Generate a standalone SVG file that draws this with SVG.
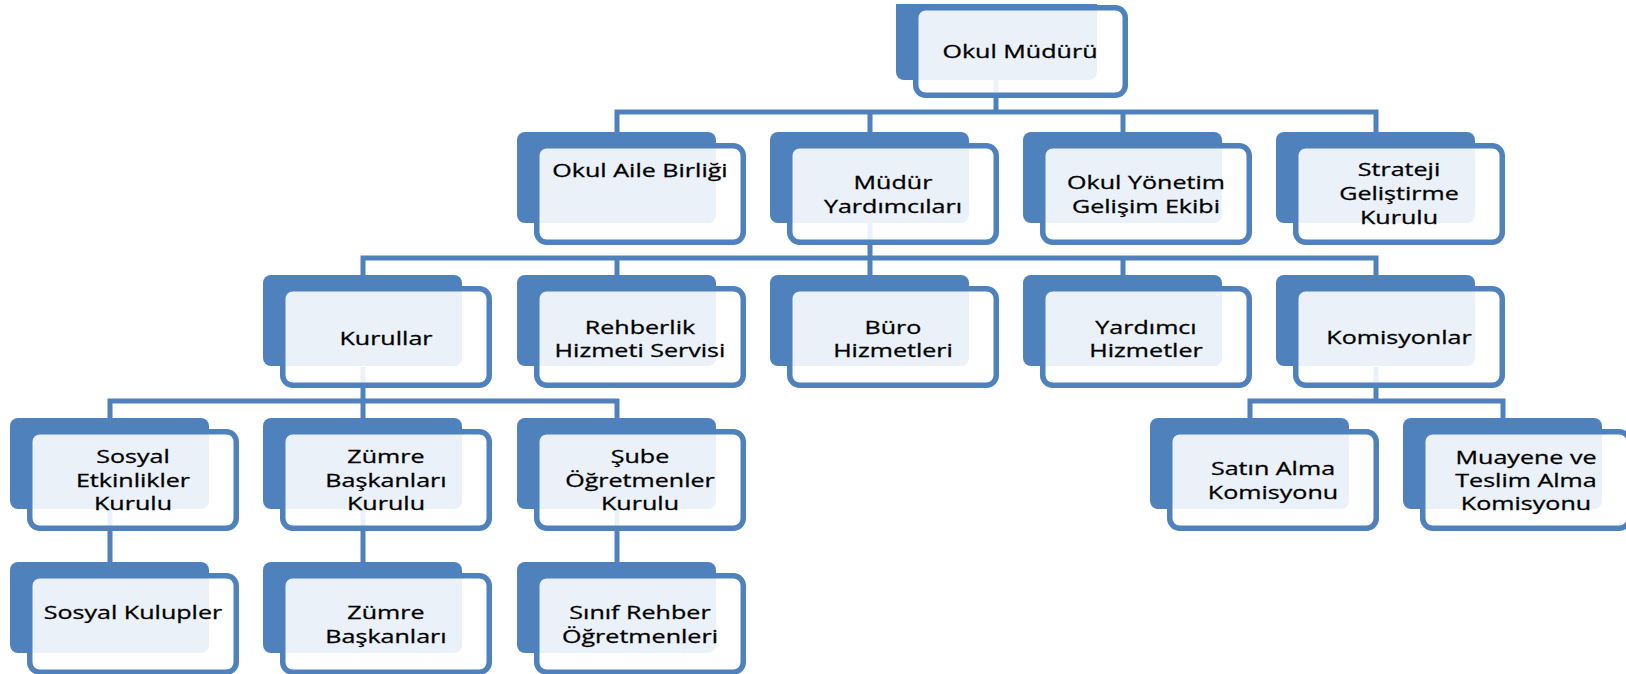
<svg xmlns="http://www.w3.org/2000/svg" width="1626" height="674" viewBox="0 0 1626 674">
<style>
.bg{fill:#ffffff}
.back{fill:#4F81BD}
.front{fill:#ffffff;fill-opacity:0.89;stroke:#4F81BD;stroke-width:5.5}
.conn{fill:none;stroke:#4F81BD;stroke-width:5;stroke-linecap:butt;stroke-linejoin:miter}
.t{font-family:"Open Sans","Noto Sans","DejaVu Sans",sans-serif;font-size:19px;fill:#000000;stroke:#000000;stroke-width:0.3;text-anchor:middle}
</style>
<rect class="bg" x="0" y="0" width="1626" height="674"/>
<g id="connectors">
<path class="conn" d="M996 76V112M617 132V112H1376V132M870 112V132M1123 112V132"/>
<path class="conn" d="M870 223V258M363 275V258H1376V275M617 258V275M870 258V275M1123 258V275"/>
<path class="conn" d="M363 367V401M110 418V401H617V418M363 401V418"/>
<path class="conn" d="M1376 367V401M1250 418V401H1503V418"/>
<path class="conn" d="M110 509V562M363 509V562M617 509V562"/>
</g>
<g id="n-okul-muduru">
<path class="back" d="M896 4H1097V72A8 8 0 0 1 1089 80H904A8 8 0 0 1 896 72Z"/>
<rect class="front" x="915.75" y="7.75" width="209.5" height="87.5" rx="10"/>
<text class="t" transform="translate(1020,0) scale(1.32,1)"><tspan x="0" y="58">Okul Müdürü</tspan></text>
</g>
<g id="n-okul-aile">
<rect class="back" x="517" y="132" width="199" height="91" rx="8"/>
<rect class="front" x="536.75" y="145.75" width="206.5" height="96.5" rx="10"/>
<text class="t" transform="translate(640,0) scale(1.32,1)"><tspan x="0" y="177">Okul Aile Birliği</tspan></text>
</g>
<g id="n-mudur-yard">
<rect class="back" x="770" y="132" width="199" height="91" rx="8"/>
<rect class="front" x="789.75" y="145.75" width="206.5" height="96.5" rx="10"/>
<text class="t" transform="translate(893,0) scale(1.32,1)"><tspan x="0" y="189">Müdür</tspan><tspan x="0" y="213">Yardımcıları</tspan></text>
</g>
<g id="n-okul-yonetim">
<rect class="back" x="1023" y="132" width="199" height="91" rx="8"/>
<rect class="front" x="1042.75" y="145.75" width="206.5" height="96.5" rx="10"/>
<text class="t" transform="translate(1146,0) scale(1.32,1)"><tspan x="0" y="189">Okul Yönetim</tspan><tspan x="0" y="213">Gelişim Ekibi</tspan></text>
</g>
<g id="n-strateji">
<rect class="back" x="1276" y="132" width="199" height="91" rx="8"/>
<rect class="front" x="1295.75" y="145.75" width="206.5" height="96.5" rx="10"/>
<text class="t" transform="translate(1399,0) scale(1.32,1)"><tspan x="0" y="176">Strateji</tspan><tspan x="0" y="200">Geliştirme</tspan><tspan x="0" y="224">Kurulu</tspan></text>
</g>
<g id="n-kurullar">
<rect class="back" x="263" y="275" width="199" height="91" rx="8"/>
<rect class="front" x="282.75" y="288.75" width="206.5" height="96.5" rx="10"/>
<text class="t" transform="translate(386,0) scale(1.32,1)"><tspan x="0" y="345">Kurullar</tspan></text>
</g>
<g id="n-rehberlik">
<rect class="back" x="517" y="275" width="199" height="91" rx="8"/>
<rect class="front" x="536.75" y="288.75" width="206.5" height="96.5" rx="10"/>
<text class="t" transform="translate(640,0) scale(1.32,1)"><tspan x="0" y="334">Rehberlik</tspan><tspan x="0" y="357">Hizmeti Servisi</tspan></text>
</g>
<g id="n-buro">
<rect class="back" x="770" y="275" width="199" height="91" rx="8"/>
<rect class="front" x="789.75" y="288.75" width="206.5" height="96.5" rx="10"/>
<text class="t" transform="translate(893,0) scale(1.32,1)"><tspan x="0" y="334">Büro</tspan><tspan x="0" y="357">Hizmetleri</tspan></text>
</g>
<g id="n-yardimci">
<rect class="back" x="1023" y="275" width="199" height="91" rx="8"/>
<rect class="front" x="1042.75" y="288.75" width="206.5" height="96.5" rx="10"/>
<text class="t" transform="translate(1146,0) scale(1.32,1)"><tspan x="0" y="334">Yardımcı</tspan><tspan x="0" y="357">Hizmetler</tspan></text>
</g>
<g id="n-komisyonlar">
<rect class="back" x="1276" y="275" width="199" height="91" rx="8"/>
<rect class="front" x="1295.75" y="288.75" width="206.5" height="96.5" rx="10"/>
<text class="t" transform="translate(1399,0) scale(1.32,1)"><tspan x="0" y="344">Komisyonlar</tspan></text>
</g>
<g id="n-sosyal-etk">
<rect class="back" x="10" y="418" width="199" height="91" rx="8"/>
<rect class="front" x="29.75" y="431.75" width="206.5" height="96.5" rx="10"/>
<text class="t" transform="translate(133,0) scale(1.32,1)"><tspan x="0" y="463">Sosyal</tspan><tspan x="0" y="487">Etkinlikler</tspan><tspan x="0" y="510">Kurulu</tspan></text>
</g>
<g id="n-zumre-kurulu">
<rect class="back" x="263" y="418" width="199" height="91" rx="8"/>
<rect class="front" x="282.75" y="431.75" width="206.5" height="96.5" rx="10"/>
<text class="t" transform="translate(386,0) scale(1.32,1)"><tspan x="0" y="463">Zümre</tspan><tspan x="0" y="487">Başkanları</tspan><tspan x="0" y="510">Kurulu</tspan></text>
</g>
<g id="n-sube">
<rect class="back" x="517" y="418" width="199" height="91" rx="8"/>
<rect class="front" x="536.75" y="431.75" width="206.5" height="96.5" rx="10"/>
<text class="t" transform="translate(640,0) scale(1.32,1)"><tspan x="0" y="463">Şube</tspan><tspan x="0" y="487">Öğretmenler</tspan><tspan x="0" y="510">Kurulu</tspan></text>
</g>
<g id="n-satin-alma">
<rect class="back" x="1150" y="418" width="199" height="91" rx="8"/>
<rect class="front" x="1169.75" y="431.75" width="206.5" height="96.5" rx="10"/>
<text class="t" transform="translate(1273,0) scale(1.32,1)"><tspan x="0" y="475">Satın Alma</tspan><tspan x="0" y="499">Komisyonu</tspan></text>
</g>
<g id="n-muayene">
<rect class="back" x="1403" y="418" width="199" height="91" rx="8"/>
<rect class="front" x="1422.75" y="431.75" width="206.5" height="96.5" rx="10"/>
<text class="t" transform="translate(1526,0) scale(1.32,1)"><tspan x="0" y="464">Muayene ve</tspan><tspan x="0" y="487">Teslim Alma</tspan><tspan x="0" y="510">Komisyonu</tspan></text>
</g>
<g id="n-sosyal-kulupler">
<rect class="back" x="10" y="562" width="199" height="91" rx="8"/>
<rect class="front" x="29.75" y="575.75" width="206.5" height="96.5" rx="10"/>
<text class="t" transform="translate(133,0) scale(1.32,1)"><tspan x="0" y="619">Sosyal Kulupler</tspan></text>
</g>
<g id="n-zumre-baskanlari">
<rect class="back" x="263" y="562" width="199" height="91" rx="8"/>
<rect class="front" x="282.75" y="575.75" width="206.5" height="96.5" rx="10"/>
<text class="t" transform="translate(386,0) scale(1.32,1)"><tspan x="0" y="619">Zümre</tspan><tspan x="0" y="643">Başkanları</tspan></text>
</g>
<g id="n-sinif-rehber">
<rect class="back" x="517" y="562" width="199" height="91" rx="8"/>
<rect class="front" x="536.75" y="575.75" width="206.5" height="96.5" rx="10"/>
<text class="t" transform="translate(640,0) scale(1.32,1)"><tspan x="0" y="619">Sınıf Rehber</tspan><tspan x="0" y="643">Öğretmenleri</tspan></text>
</g>
</svg>
